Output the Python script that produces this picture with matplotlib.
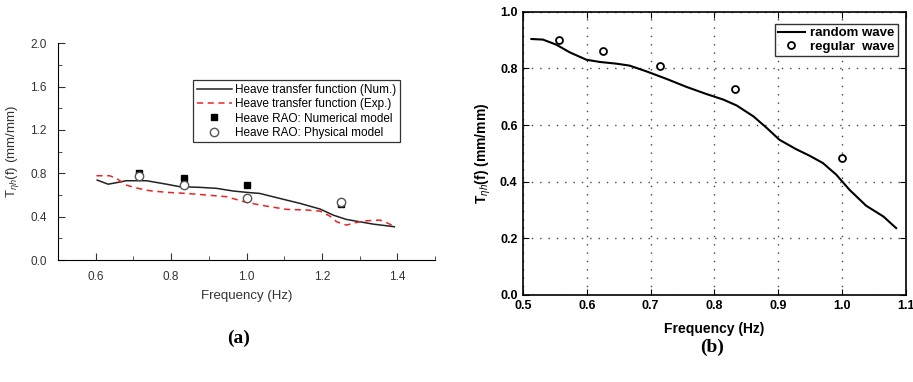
import numpy as np
import matplotlib
matplotlib.use('Agg')
import matplotlib.pyplot as plt

plt.rcParams['font.family'] = ['Liberation Sans', 'DejaVu Sans']
plt.rcParams['mathtext.fontset'] = 'custom'
plt.rcParams['mathtext.rm'] = 'Liberation Sans'
plt.rcParams['mathtext.it'] = 'Liberation Sans:italic'

# (a) heave transfer function
num_f = [0.604, 0.633, 0.655, 0.681, 0.735, 0.788, 0.823, 0.876, 0.920, 0.965, 1.0,
         1.035, 1.088, 1.142, 1.195, 1.23, 1.265, 1.30, 1.336, 1.392]
num_t = [0.738, 0.70, 0.714, 0.732, 0.732, 0.70, 0.677, 0.671, 0.662, 0.637, 0.625,
         0.615, 0.569, 0.523, 0.471, 0.415, 0.375, 0.354, 0.332, 0.308]
exp_f = [0.602, 0.637, 0.655, 0.681, 0.708, 0.743, 0.788, 0.841, 0.894, 0.947, 1.0,
         1.053, 1.106, 1.159, 1.195, 1.221, 1.239, 1.265, 1.292, 1.319, 1.354, 1.372, 1.394]
exp_t = [0.778, 0.778, 0.754, 0.692, 0.665, 0.64, 0.625, 0.615, 0.60, 0.585, 0.532,
         0.498, 0.468, 0.462, 0.452, 0.406, 0.354, 0.323, 0.348, 0.363, 0.369, 0.345, 0.308]
rao_f = [0.714, 0.833, 1.0, 1.25]
rao_num = [0.80, 0.76, 0.69, 0.52]
rao_phy = [0.78, 0.69, 0.57, 0.54]

# (b) random vs regular wave
rand_f = [0.513, 0.531, 0.552, 0.573, 0.599, 0.620, 0.646, 0.667, 0.693, 0.725, 0.756,
          0.787, 0.814, 0.835, 0.861, 0.882, 0.902, 0.928, 0.949, 0.970, 0.991, 1.012,
          1.038, 1.065, 1.085]
rand_t = [0.904, 0.902, 0.884, 0.857, 0.831, 0.823, 0.817, 0.810, 0.790, 0.763, 0.735,
          0.710, 0.690, 0.669, 0.631, 0.590, 0.548, 0.515, 0.492, 0.466, 0.425, 0.371,
          0.315, 0.277, 0.236]
reg_f = [0.556, 0.625, 0.714, 0.833, 1.0]
reg_t = [0.900, 0.863, 0.807, 0.726, 0.482]

ylab = r'T$_{\eta h}$(f) (mm/mm)'

fig = plt.figure(figsize=(9.13, 3.82), dpi=100)

# ---- panel (a)
ax1 = fig.add_axes([0.0635, 0.319, 0.413, 0.568])
ax1.plot(num_f, num_t, color='#222222', lw=1.1, label='Heave transfer function (Num.)')
ax1.plot(exp_f, exp_t, color='#ee2222', lw=1.1, ls=(0, (4, 3)), label='Heave transfer function (Exp.)')
ax1.plot(rao_f, rao_num, 's', color='black', ms=5, ls='none', label='Heave RAO: Numerical model')
ax1.plot(rao_f, rao_phy, 'o', mfc='white', mec='#555555', ms=6, ls='none', label='Heave RAO: Physical model')
ax1.set_xlim(0.5, 1.5)
ax1.set_ylim(0, 2.0)
ax1.set_xticks([0.6, 0.8, 1.0, 1.2, 1.4])
ax1.set_xticks([0.5, 0.7, 0.9, 1.1, 1.3, 1.5], minor=True)
ax1.set_yticks([0.0, 0.4, 0.8, 1.2, 1.6, 2.0])
ax1.set_yticks([0.2, 0.6, 1.0, 1.4, 1.8], minor=True)
ax1.spines['top'].set_visible(False)
ax1.spines['right'].set_visible(False)
ax1.tick_params(which='both', direction='in', labelsize=8.5, colors='#333333', pad=8)
ax1.tick_params(which='major', length=5)
ax1.tick_params(which='minor', length=3)
ax1.set_xlabel('Frequency (Hz)', fontsize=9.5, color='#333333', labelpad=5)
ax1.set_ylabel(ylab, fontsize=9.5, color='#333333', labelpad=7)
leg1 = ax1.legend(loc='upper left', bbox_to_anchor=(0.358, 0.829), borderaxespad=0,
                  fontsize=8.5, frameon=True, fancybox=False, edgecolor='black',
                  handlelength=3, labelspacing=0.2, borderpad=0.3, handletextpad=0.3)
leg1.get_frame().set_linewidth(0.9)
fig.text(0.261, 0.115, '(a)', family='Liberation Serif', weight='bold', fontsize=14,
         ha='center', va='center')

# ---- panel (b)
ax2 = fig.add_axes([0.573, 0.228, 0.419, 0.741])
ax2.plot(rand_f, rand_t, color='black', lw=1.5, label='random wave')
ax2.plot(reg_f, reg_t, 'o', mfc='white', mec='black', mew=1.3, ms=5, ls='none', label='regular  wave')
ax2.set_xlim(0.5, 1.1)
ax2.set_ylim(0, 1.0)
ax2.set_xticks(np.arange(0.5, 1.11, 0.1))
ax2.set_yticks(np.arange(0.0, 1.01, 0.2))
ax2.grid(True, ls=(0, (1, 5)), color='#444444', lw=1.0)
ax2.tick_params(direction='in', top=True, right=True, length=4, labelsize=9, pad=4)
for lbl in ax2.get_xticklabels() + ax2.get_yticklabels():
    lbl.set_fontweight('bold')
for sp in ax2.spines.values():
    sp.set_linewidth(1.2)
ax2.set_xlabel('Frequency (Hz)', fontsize=10, weight='bold', labelpad=7)
ax2.set_ylabel(ylab, fontsize=10, weight='bold', labelpad=5)
leg2 = ax2.legend(loc='upper right', bbox_to_anchor=(0.979, 0.958), borderaxespad=0,
                  prop={'size': 9.5, 'weight': 'bold'}, frameon=True, fancybox=False,
                  edgecolor='black', handlelength=2.0, labelspacing=0.1, borderpad=0.25,
                  handletextpad=0.4)
leg2.get_frame().set_linewidth(1.0)
fig.text(0.78, 0.092, '(b)', family='Liberation Serif', weight='bold', fontsize=14,
         ha='center', va='center')

fig.savefig('out.png', dpi=100)
